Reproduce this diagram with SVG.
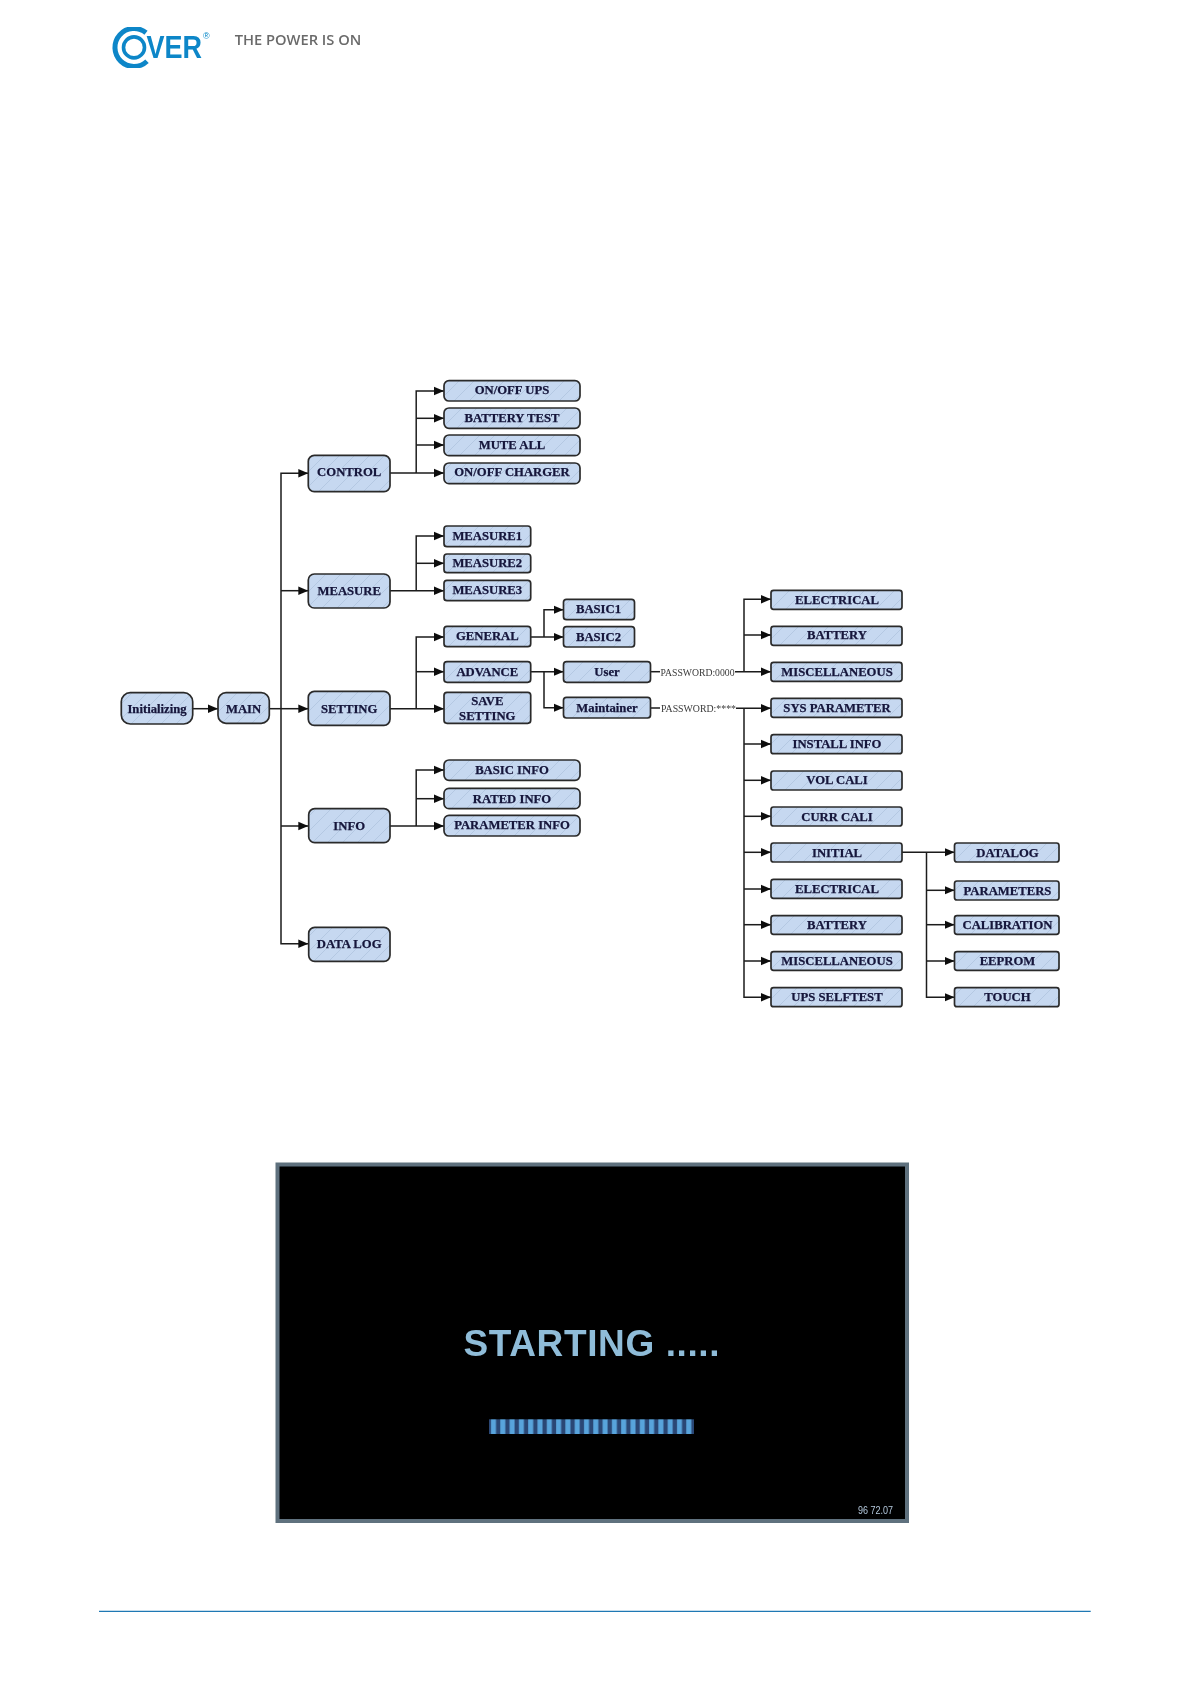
<svg xmlns="http://www.w3.org/2000/svg" width="1192" height="1685" viewBox="0 0 1192 1685">
<style>
.n{fill:url(#hatch);stroke:#2b2b2b;stroke-width:1.7}
.t{font-family:"Liberation Serif","Times New Roman",serif;font-weight:700;font-size:12.7px;fill:#14143a;stroke:#14143a;stroke-width:.25;text-anchor:middle}
.c{fill:none;stroke:#1c1c1c;stroke-width:1.5;marker-end:url(#arr)}
.l{fill:none;stroke:#1c1c1c;stroke-width:1.5}
.p{font-family:"Liberation Serif","Times New Roman",serif;font-size:10.5px;fill:#3a3a3a}
</style>
<defs>
<pattern id="hatch" patternUnits="userSpaceOnUse" width="15" height="15">
<rect width="15" height="15" fill="#c6d8f0"/>
<path d="M-2 2L2 -2M0 15L15 0M13 17L17 13" stroke="#b0c4de" stroke-width="0.8"/>
</pattern>
<pattern id="seg" patternUnits="userSpaceOnUse" x="489" y="0" width="9.3" height="20">
<rect width="9.3" height="20" fill="#2b4674"/>
<rect x="2" width="5" height="20" fill="#58a4dc"/>
</pattern>
<marker id="arr" markerUnits="userSpaceOnUse" markerWidth="11" markerHeight="10" refX="10" refY="5" orient="auto">
<path d="M0 0.8L10 5L0 9.2Z" fill="#111"/>
</marker>
<filter id="soft" x="-2%" y="-2%" width="104%" height="104%"><feGaussianBlur stdDeviation="0.5"/></filter>
</defs>
<rect width="1192" height="1685" fill="#fff"/>

<g id="logo" filter="url(#soft)">
<path d="M146 32.8A19 19 0 1 0 147 61.3" fill="none" stroke="#0a86c8" stroke-width="5"/>
<circle cx="134" cy="47.4" r="10.5" fill="none" stroke="#0a86c8" stroke-width="3.6"/>
<text transform="translate(146.5 58) scale(1 1.15)" font-family="'Liberation Sans',Arial,sans-serif" font-weight="700" font-size="27" fill="#0a86c8">VER</text>
<text x="203" y="38.5" font-family="'Liberation Sans',Arial,sans-serif" font-size="9" fill="#0a86c8">®</text>
<text x="234.7" y="45" font-family="'Open Sans','Liberation Sans',sans-serif" font-weight="600" font-size="14" fill="#6a6a6a" textLength="126.6" lengthAdjust="spacingAndGlyphs">THE POWER IS ON</text>
</g>

<g id="diagram" filter="url(#soft)">
<g id="connectors">
<path class="c" d="M192.7 708.7H218"/>
<path class="l" d="M269.3 708.7H281"/>
<path class="c" d="M281 708.7H308.3"/>
<path class="c" d="M281 708.7V473.3H308.3"/>
<path class="c" d="M281 590.7H308.3"/>
<path class="c" d="M281 708.7V943.7H308.3"/>
<path class="c" d="M281 826H308.3"/>
<path class="c" d="M390 473H444"/>
<path class="c" d="M416.2 473V391H444"/>
<path class="c" d="M416.2 418.3H444"/>
<path class="c" d="M416.2 445H444"/>
<path class="c" d="M390 590.7H444"/>
<path class="c" d="M416.2 590.7V536H444"/>
<path class="c" d="M416.2 563.3H444"/>
<path class="c" d="M390 708.7H444"/>
<path class="c" d="M416.2 708.7V637H444"/>
<path class="c" d="M416.2 671.7H444"/>
<path class="c" d="M390 826H444"/>
<path class="c" d="M416.2 826V770H444"/>
<path class="c" d="M416.2 798.7H444"/>
<path class="c" d="M530.7 637H563.5"/>
<path class="c" d="M544 637V609.7H563.5"/>
<path class="c" d="M530.7 671.7H563.5"/>
<path class="c" d="M544 671.7V707.7H563.5"/>
<path class="l" d="M650.5 671.7H660"/>
<path class="c" d="M735 671.7H771"/>
<path class="c" d="M744 671.7V599.3H771"/>
<path class="c" d="M744 635H771"/>
<path class="l" d="M650.5 708H660"/>
<path class="c" d="M736 708.3H771"/>
<path class="c" d="M744 708.3V997.3H771"/>
<path class="c" d="M744 744H771"/>
<path class="c" d="M744 780.3H771"/>
<path class="c" d="M744 816.3H771"/>
<path class="c" d="M744 852.3H771"/>
<path class="c" d="M744 889H771"/>
<path class="c" d="M744 924.7H771"/>
<path class="c" d="M744 961H771"/>
<path class="c" d="M902 852.3H954.5"/>
<path class="c" d="M926.5 852.3V997.3H954.5"/>
<path class="c" d="M926.5 890.3H954.5"/>
<path class="c" d="M926.5 924.7H954.5"/>
<path class="c" d="M926.5 961H954.5"/>
<text class="p" x="660.5" y="676" textLength="74" lengthAdjust="spacingAndGlyphs">PASSWORD:0000</text>
<text class="p" x="661" y="712" textLength="75" lengthAdjust="spacingAndGlyphs">PASSWORD:****</text>
</g>

<g id="n-initializing"><rect class="n" x="121.3" y="692.7" width="71.4" height="31.3" rx="9"/><text class="t" x="157" y="712.8">Initializing</text></g>
<g id="n-main"><rect class="n" x="218" y="692.7" width="51.3" height="30.6" rx="8"/><text class="t" x="243.6" y="712.8">MAIN</text></g>
<g id="n-control"><rect class="n" x="308.3" y="455.3" width="81.7" height="36.4" rx="6"/><text class="t" x="349.2" y="476">CONTROL</text></g>
<g id="n-measure"><rect class="n" x="308.3" y="574" width="81.7" height="34" rx="6"/><text class="t" x="349.2" y="595">MEASURE</text></g>
<g id="n-setting"><rect class="n" x="308.3" y="691.3" width="81.7" height="34" rx="6"/><text class="t" x="349.2" y="712.8">SETTING</text></g>
<g id="n-info"><rect class="n" x="308.7" y="808.7" width="81.3" height="34" rx="6"/><text class="t" x="349.2" y="830">INFO</text></g>
<g id="n-datalog-main"><rect class="n" x="308.7" y="927.3" width="81.3" height="34" rx="6"/><text class="t" x="349.2" y="948">DATA LOG</text></g>

<g id="n-onoffups"><rect class="n" x="444" y="380.7" width="136" height="20.3" rx="5"/><text class="t" x="512" y="394">ON/OFF UPS</text></g>
<g id="n-batterytest"><rect class="n" x="444" y="408" width="136" height="20.3" rx="5"/><text class="t" x="512" y="421.5">BATTERY TEST</text></g>
<g id="n-muteall"><rect class="n" x="444" y="435" width="136" height="20.7" rx="5"/><text class="t" x="512" y="449">MUTE ALL</text></g>
<g id="n-onoffcharger"><rect class="n" x="444" y="463" width="136" height="20.7" rx="5"/><text class="t" x="512" y="476">ON/OFF CHARGER</text></g>
<g id="n-measure1"><rect class="n" x="444" y="526" width="86.7" height="20.7" rx="3"/><text class="t" x="487.3" y="540">MEASURE1</text></g>
<g id="n-measure2"><rect class="n" x="444" y="554" width="86.7" height="18.7" rx="3"/><text class="t" x="487.3" y="567">MEASURE2</text></g>
<g id="n-measure3"><rect class="n" x="444" y="580.3" width="86.7" height="20.4" rx="3"/><text class="t" x="487.3" y="594">MEASURE3</text></g>
<g id="n-general"><rect class="n" x="444" y="626.3" width="86.7" height="20.4" rx="3"/><text class="t" x="487.3" y="640">GENERAL</text></g>
<g id="n-advance"><rect class="n" x="444" y="661.7" width="86.7" height="20.6" rx="3"/><text class="t" x="487.3" y="676">ADVANCE</text></g>
<g id="n-savesetting"><rect class="n" x="444" y="692.3" width="86.7" height="31" rx="3"/><text class="t" x="487.3" y="705">SAVE</text><text class="t" x="487.3" y="720">SETTING</text></g>
<g id="n-basicinfo"><rect class="n" x="444" y="760" width="136" height="20.3" rx="5"/><text class="t" x="512" y="774">BASIC INFO</text></g>
<g id="n-ratedinfo"><rect class="n" x="444" y="788.3" width="136" height="20.4" rx="5"/><text class="t" x="512" y="803">RATED INFO</text></g>
<g id="n-parameterinfo"><rect class="n" x="444" y="815.3" width="136" height="20.7" rx="5"/><text class="t" x="512" y="829">PARAMETER INFO</text></g>
<g id="n-basic1"><rect class="n" x="563.5" y="599.3" width="71" height="20.4" rx="3"/><text class="t" x="598.5" y="613">BASIC1</text></g>
<g id="n-basic2"><rect class="n" x="563.5" y="626.7" width="71" height="20.3" rx="3"/><text class="t" x="598.5" y="640.5">BASIC2</text></g>
<g id="n-user"><rect class="n" x="563.5" y="661.7" width="87" height="20.6" rx="3"/><text class="t" x="607" y="676">User</text></g>
<g id="n-maintainer"><rect class="n" x="563.5" y="697.3" width="87" height="20.7" rx="3"/><text class="t" x="607" y="711.5">Maintainer</text></g>

<g id="n-electrical1"><rect class="n" x="771" y="590.3" width="131" height="19" rx="2.5"/><text class="t" x="837" y="603.5">ELECTRICAL</text></g>
<g id="n-battery1"><rect class="n" x="771" y="626.3" width="131" height="19" rx="2.5"/><text class="t" x="837" y="639">BATTERY</text></g>
<g id="n-misc1"><rect class="n" x="771" y="662.3" width="131" height="19" rx="2.5"/><text class="t" x="837" y="676">MISCELLANEOUS</text></g>
<g id="n-sysparameter"><rect class="n" x="771" y="698.3" width="131" height="19" rx="2.5"/><text class="t" x="837" y="712">SYS PARAMETER</text></g>
<g id="n-installinfo"><rect class="n" x="771" y="734.7" width="131" height="19" rx="2.5"/><text class="t" x="837" y="748">INSTALL INFO</text></g>
<g id="n-volcali"><rect class="n" x="771" y="771" width="131" height="19" rx="2.5"/><text class="t" x="837" y="784">VOL CALI</text></g>
<g id="n-currcali"><rect class="n" x="771" y="807" width="131" height="19" rx="2.5"/><text class="t" x="837" y="821">CURR CALI</text></g>
<g id="n-initial"><rect class="n" x="771" y="843" width="131" height="19" rx="2.5"/><text class="t" x="837" y="857">INITIAL</text></g>
<g id="n-electrical2"><rect class="n" x="771" y="879.3" width="131" height="19" rx="2.5"/><text class="t" x="837" y="893">ELECTRICAL</text></g>
<g id="n-battery2"><rect class="n" x="771" y="915.7" width="131" height="18.6" rx="2.5"/><text class="t" x="837" y="929">BATTERY</text></g>
<g id="n-misc2"><rect class="n" x="771" y="951.7" width="131" height="18.6" rx="2.5"/><text class="t" x="837" y="965">MISCELLANEOUS</text></g>
<g id="n-upsselftest"><rect class="n" x="771" y="987.7" width="131" height="19" rx="2.5"/><text class="t" x="837" y="1001">UPS SELFTEST</text></g>
<g id="n-datalog"><rect class="n" x="954.5" y="843" width="104.5" height="19" rx="2.5"/><text class="t" x="1007.5" y="857">DATALOG</text></g>
<g id="n-parameters"><rect class="n" x="954.5" y="881" width="104.5" height="19" rx="2.5"/><text class="t" x="1007.5" y="895">PARAMETERS</text></g>
<g id="n-calibration"><rect class="n" x="954.5" y="915.7" width="104.5" height="18.6" rx="2.5"/><text class="t" x="1007.5" y="929">CALIBRATION</text></g>
<g id="n-eeprom"><rect class="n" x="954.5" y="951.7" width="104.5" height="18.6" rx="2.5"/><text class="t" x="1007.5" y="965">EEPROM</text></g>
<g id="n-touch"><rect class="n" x="954.5" y="987.7" width="104.5" height="19" rx="2.5"/><text class="t" x="1007.5" y="1001">TOUCH</text></g>
</g>

<g id="screen" filter="url(#soft)">
<rect x="277.5" y="1164.5" width="629.5" height="356.5" fill="#000" stroke="#5f717e" stroke-width="4"/>
<text x="463.5" y="1356" font-family="'Liberation Sans',Arial,sans-serif" font-weight="700" font-size="37" fill="#8fbcd8" textLength="256" lengthAdjust="spacing">STARTING .....</text>
<rect x="489" y="1419.3" width="205" height="14.7" fill="url(#seg)"/>
<text x="858" y="1513.5" font-family="'Liberation Sans',Arial,sans-serif" font-size="11" fill="#b4c8dc" textLength="35" lengthAdjust="spacingAndGlyphs">96 72.07</text>
</g>

<path id="footer-rule" d="M99 1611.3H1090.7" stroke="#1f78b4" stroke-width="1.3"/>
</svg>
